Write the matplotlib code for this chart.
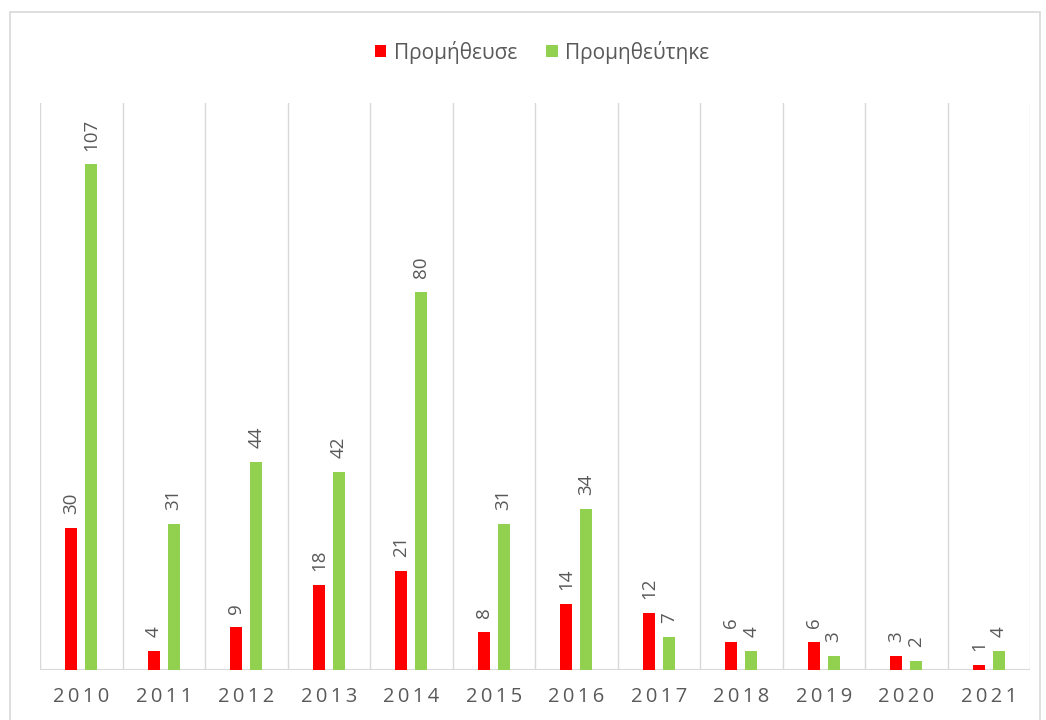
import matplotlib
matplotlib.use("Agg")
import matplotlib.pyplot as plt
from matplotlib.patches import Rectangle
import numpy as np

years = ["2010", "2011", "2012", "2013", "2014", "2015",
         "2016", "2017", "2018", "2019", "2020", "2021"]
supplied = [30, 4, 9, 18, 21, 8, 14, 12, 6, 6, 3, 1]
received = [107, 31, 44, 42, 80, 31, 34, 7, 4, 3, 2, 4]

RED = "#ff0000"
GREEN = "#92d050"
GRID = "#d9d9d9"
TEXT = "#595959"

plt.rcParams["font.family"] = ["Open Sans", "DejaVu Sans"]

W, H = 1046, 720
fig = plt.figure(figsize=(W / 100, H / 100), dpi=100)

# chart frame
fig.patches.append(Rectangle((10 / W, -0.05), 1030 / W, (720 - 12) / H + 0.05,
                             transform=fig.transFigure, fill=False,
                             edgecolor=GRID, linewidth=1.2))

ax = fig.add_axes([40 / W, 50 / H, 990 / W, 567 / H])
x = np.arange(len(years))
bw = 0.145
off = 0.12
b1 = ax.bar(x - off, supplied, bw, color=RED, label="Προμήθευσε", zorder=3)
b2 = ax.bar(x + off, received, bw, color=GREEN, label="Προμηθεύτηκε", zorder=3)

for bars, vals in ((b1, supplied), (b2, received)):
    for bar, v in zip(bars, vals):
        ax.annotate(str(v), (bar.get_x() + bar.get_width() / 2, v),
                    xytext=(0, 10), textcoords="offset points",
                    rotation=90, ha="center", va="bottom",
                    fontsize=13.5, color=TEXT)

ax.set_xlim(-0.5, len(years) - 0.5)
ax.set_ylim(0, 120)
for b in np.arange(-0.5, len(years), 1.0):
    ax.axvline(b, color=GRID, linewidth=1, zorder=1)
for s in ax.spines.values():
    s.set_visible(False)
ax.axhline(0, color=GRID, linewidth=1.5, zorder=2)

ax.set_yticks([])
ax.set_xticks(x)
ax.set_xticklabels(["\u2009".join(y) for y in years], fontsize=14.5, color=TEXT)
ax.tick_params(axis="x", length=0, pad=12)

fig.legend(loc="center", bbox_to_anchor=(542 / W, 1 - 52 / H), ncol=2,
           frameon=False, fontsize=15, handlelength=0.55, handleheight=0.55,
           handletextpad=0.35, columnspacing=1.4, labelcolor=TEXT)

fig.savefig("out.png", dpi=100)
